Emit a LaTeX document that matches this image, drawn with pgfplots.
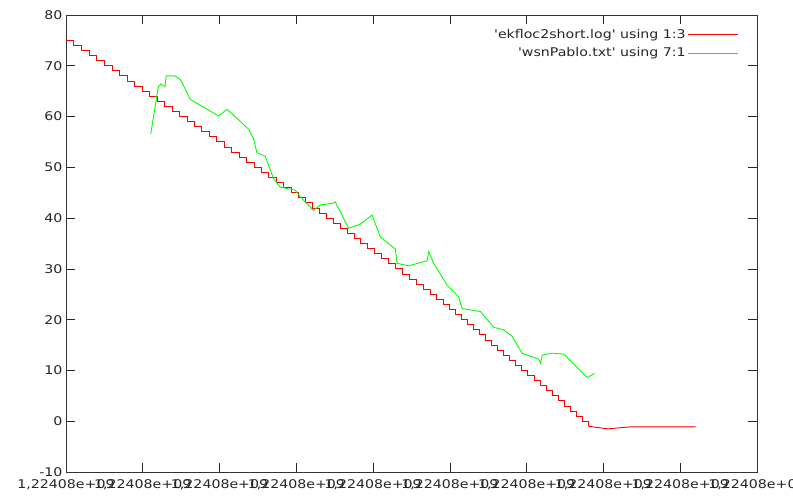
\documentclass[border=0pt]{standalone}
\usepackage{fontspec}
\setmainfont{DejaVu Sans}[Ligatures=TeXOff, FakeStretch=1.18]
\usepackage{pgfplots}
\pgfplotsset{compat=1.18}

\newcommand{\gpfont}{\fontsize{12}{14}\selectfont}

\begin{document}
\begin{tikzpicture}
\begin{axis}[
    scale only axis,
    width=691pt, height=457pt,
    xmin=0, xmax=9, ymin=-10, ymax=80,
    xtick={0,...,9},
    xticklabels={{1,22408e+09},{1,22408e+09},{1,22408e+09},{1,22408e+09},{1,22408e+09},{1,22408e+09},{1,22408e+09},{1,22408e+09},{1,22408e+09},{1,22408e+09}},
    ytick={-10,0,...,80},
    /pgf/number format/assume math mode=true,
    ticklabel style={font=\gpfont, text=black!85},
    xticklabel style={yshift=-4pt},
    major tick length=9pt,
    tick style={black!85, line width=0.7pt},
    axis line style={black!80, line width=0.8pt},
    legend style={at={(0.978,0.978)}, anchor=north east, draw=none, fill=none,
        font=\gpfont, text=black!85, row sep=4pt},
    legend cell align=right,
    legend plot pos=right,
]
% ekfloc2short.log, column 3 (stepwise)
\addplot[red, const plot, line width=0.9pt,
    legend image code/.code={\draw[red, line width=0.9pt] (5pt,0pt) -- (55pt,0pt);}] coordinates {
(0,75) (0.1,74) (0.2,73) (0.3,72) (0.4,71) (0.5,70) (0.6,69) (0.7,68) (0.8,67)
(0.897,66) (0.994,65) (1.091,64) (1.188,63) (1.285,62) (1.382,61) (1.479,60)
(1.576,59) (1.673,58) (1.77,57) (1.867,56) (1.964,55) (2.061,54) (2.158,53)
(2.255,52) (2.352,51) (2.449,50) (2.546,49) (2.643,48) (2.74,47) (2.837,46)
(2.934,45) (3.031,44) (3.121,43) (3.211,42) (3.301,41) (3.391,40) (3.481,39)
(3.571,38) (3.661,37) (3.751,36) (3.841,35) (3.931,34) (4.021,33) (4.111,32)
(4.201,31) (4.291,30) (4.381,29) (4.471,28) (4.561,27) (4.651,26) (4.741,25)
(4.831,24) (4.91,23) (4.989,22) (5.068,21) (5.147,20) (5.226,19) (5.305,18)
(5.384,17) (5.463,16) (5.542,15) (5.621,14) (5.7,13) (5.779,12) (5.858,11)
(5.937,10) (6.016,9) (6.095,8) (6.174,7) (6.253,6) (6.332,5) (6.411,4)
(6.49,3) (6.569,2) (6.648,1) (6.727,0) (6.806,-1)
};
\addlegendentry{'ekfloc2short.log' using 1:3}
\addplot[red, line width=0.9pt, forget plot] coordinates {
(6.806,-1) (7.054,-1.5) (7.354,-1.1) (8.2,-1.1)
};
% wsnPablo.txt, 7:1
\addplot[green, line width=0.9pt,
    legend image code/.code={\draw[green, line width=0.9pt] (5pt,0pt) -- (55pt,0pt);}] coordinates {
(1.104,56.6) (1.203,65.9) (1.235,66.4) (1.291,65.9) (1.304,68.0) (1.421,68.0)
(1.495,67.2) (1.617,63.4) (1.986,60.1) (2.095,61.4) (2.226,59.7) (2.377,57.5)
(2.442,55.7) (2.486,52.9) (2.595,52.2) (2.703,47.8) (2.790,46.1) (2.986,45.5)
(3.051,44.2) (3.224,41.5) (3.312,42.6) (3.464,42.9) (3.507,43.2) (3.681,38.0)
(3.833,38.8) (3.986,40.6) (4.094,36.3) (4.290,33.9) (4.312,31.1) (4.463,30.6)
(4.703,31.6) (4.724,33.4) (4.789,31.1) (4.963,26.8) (5.115,24.5) (5.159,22.2)
(5.398,21.6) (5.571,18.5) (5.702,18.0) (5.811,16.7) (5.941,13.4) (6.158,12.2)
(6.180,11.4) (6.202,13.0) (6.332,13.4) (6.484,13.2) (6.789,8.6) (6.884,9.4)
};
\addlegendentry{'wsnPablo.txt' using 7:1}
\end{axis}
\pgfresetboundingbox
\useasboundingbox (current axis.south west) ++(-66pt,-30pt) rectangle ++(793pt,502pt);
\end{tikzpicture}
\end{document}
